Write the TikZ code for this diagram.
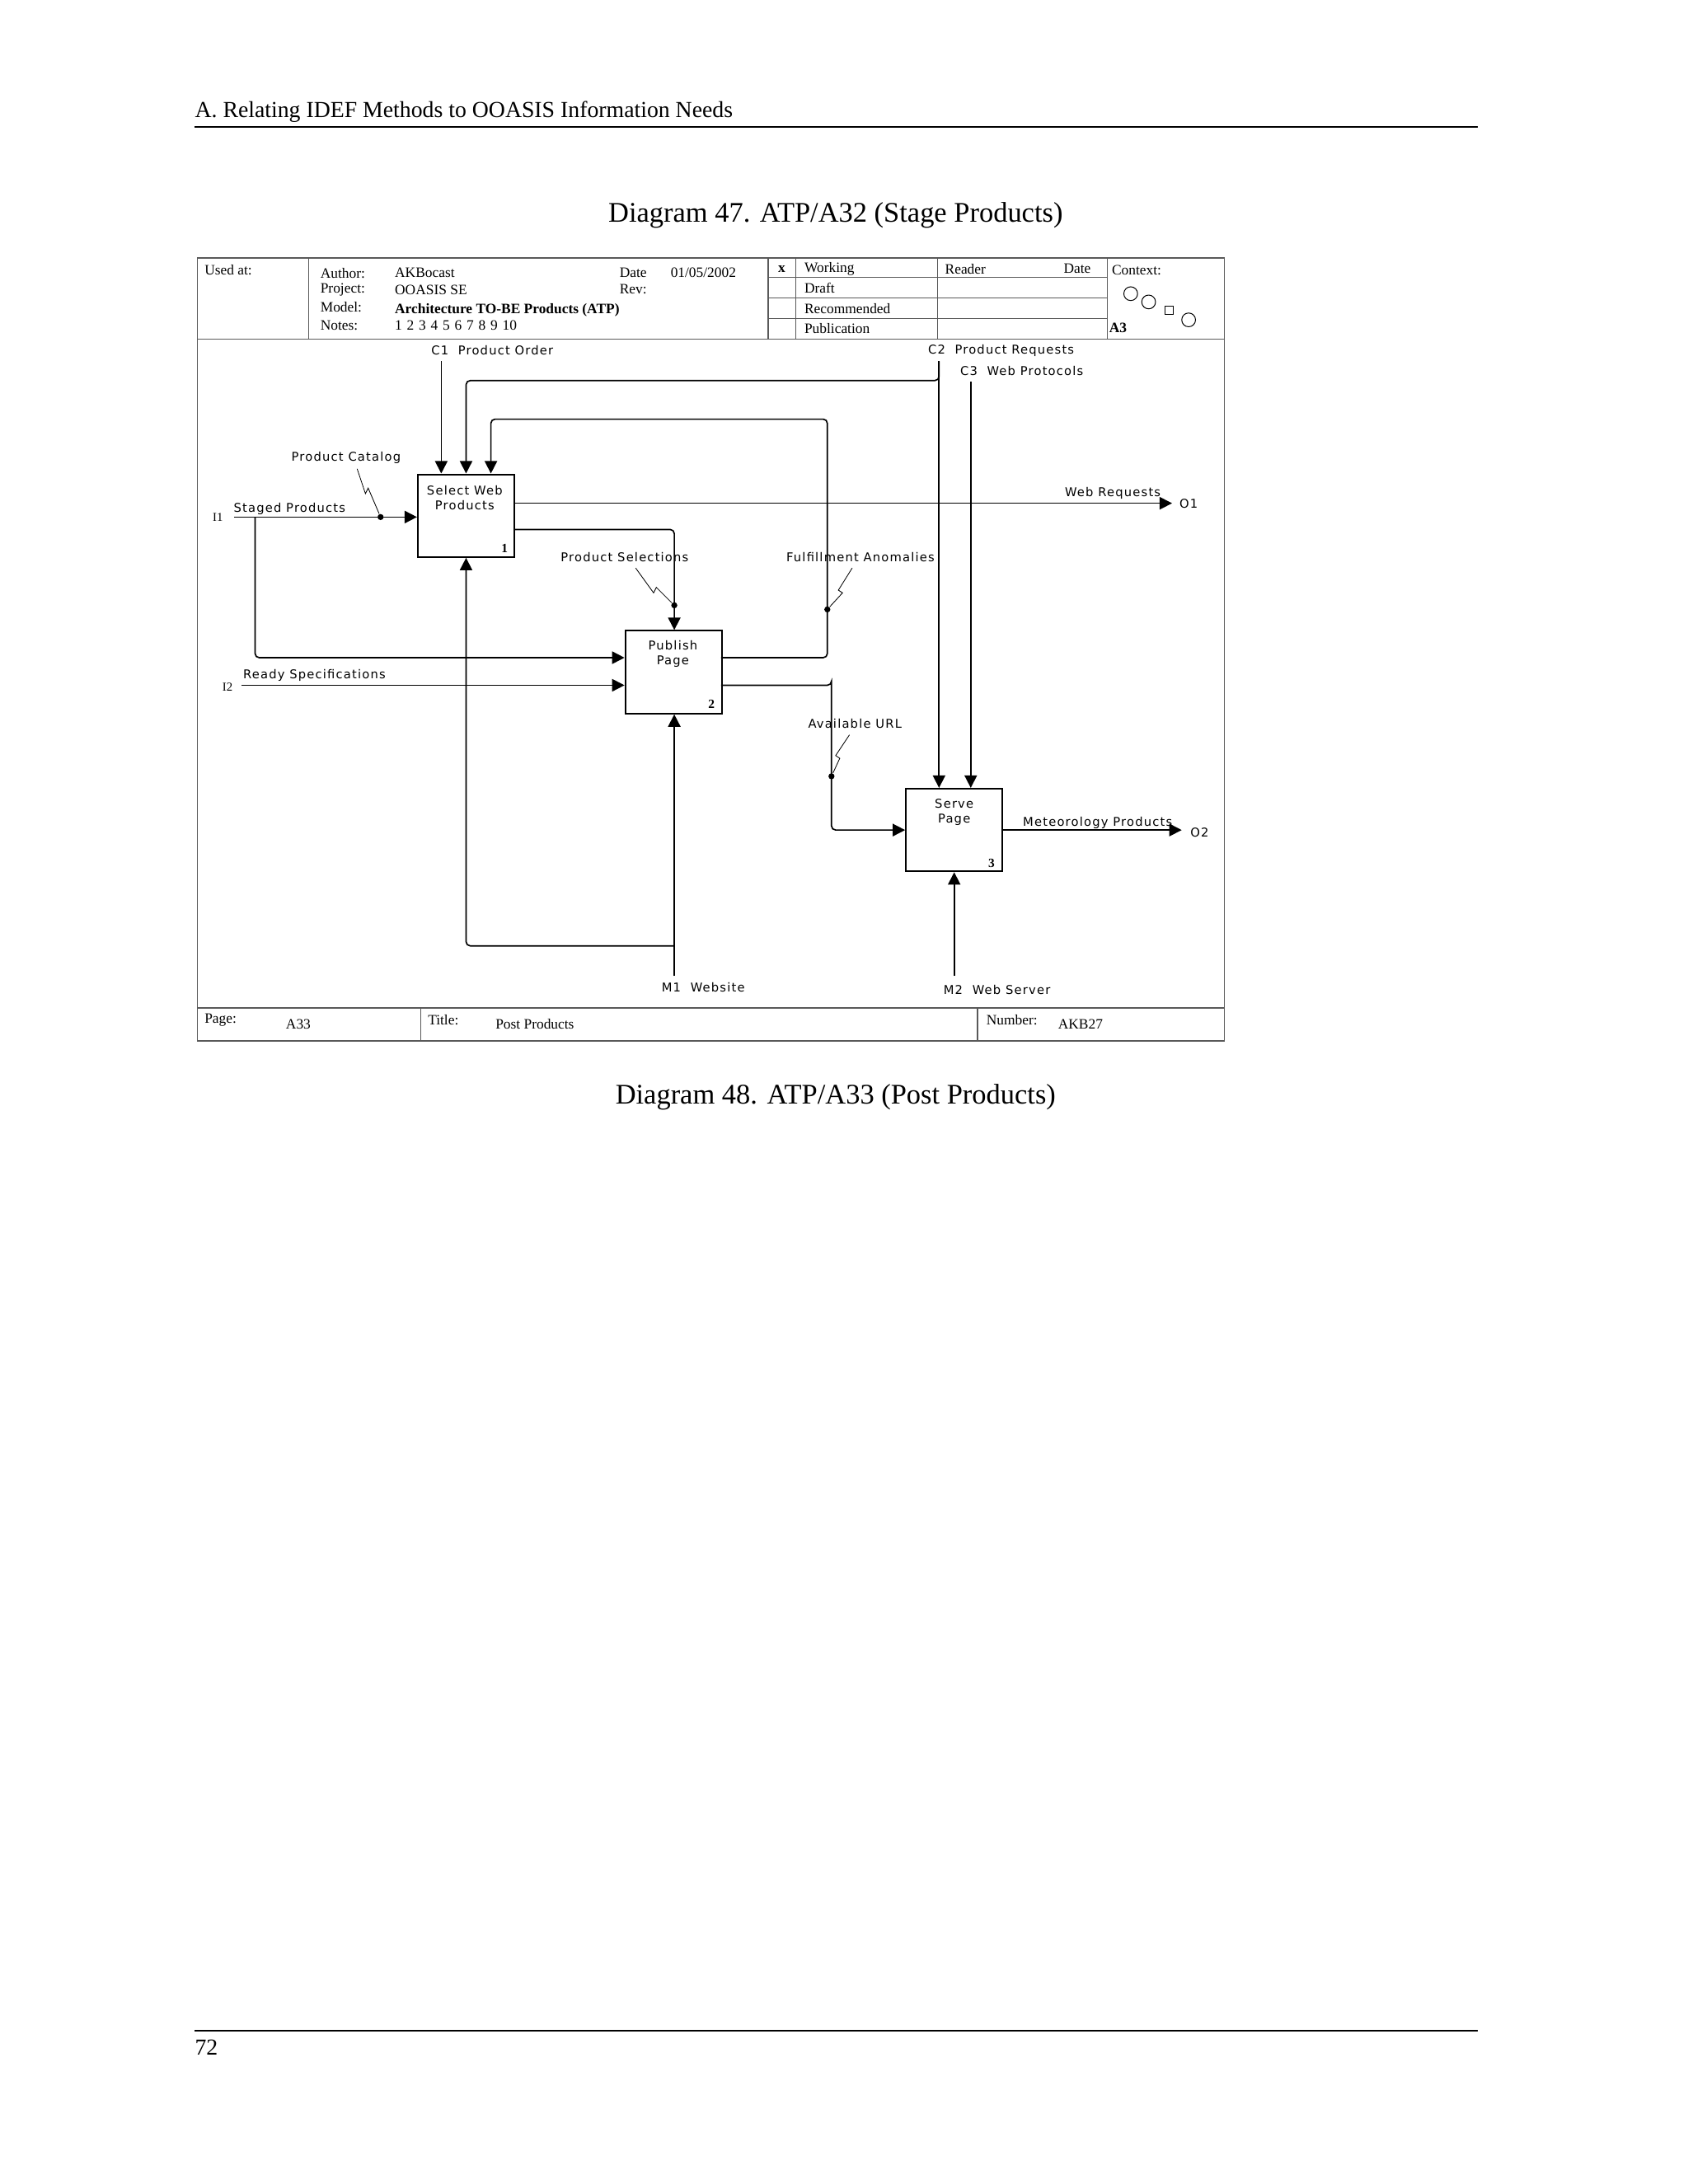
\documentclass[tikz,border=0pt]{standalone}
\usepackage{fontspec}
\setmainfont{Liberation Serif}
\newfontfamily\lab[LetterSpace=8]{DejaVu Sans}
\usetikzlibrary{arrows.meta,calc}
\begin{document}
\begin{tikzpicture}[x=0.5pt,y=-0.5pt,
  ln/.style={line width=0.5pt},
  arr/.style={ln,-{Triangle[length=4.5pt,width=4.5pt]},rounded corners=1.5pt},
  rc/.style={ln,rounded corners=1.5pt},
  box/.style={draw,line width=0.6pt,minimum width=35pt,minimum height=30pt,inner sep=0pt},
  lbl/.style={font=\lab\fontsize{4.4}{5.4}\selectfont,inner sep=0pt,align=center},
  fr/.style={font=\fontsize{5.2}{6}\selectfont,inner sep=0pt,anchor=west},
  sq/.style={line width=0.25pt},
  dot/.style={circle,fill,inner sep=0pt,minimum size=2.2pt}]
\useasboundingbox (0,0) rectangle (1224,1584);
% page
\node[font=\fontsize{8.3}{10}\selectfont,anchor=west,inner sep=0pt] (hdr) at (141,81) {A. Relating IDEF Methods to OOASIS Information Needs};
\draw[line width=0.6pt] (141,92) -- (1072,92);
\node[font=\fontsize{10.3}{12}\selectfont,inner sep=0pt] (cap1) at (606,156) {Diagram 47. ATP/A32 (Stage Products)};
\node[font=\fontsize{10.3}{12}\selectfont,inner sep=0pt] (cap2) at (606,796) {Diagram 48. ATP/A33 (Post Products)};
\draw[line width=0.6pt] (141,1473) -- (1072,1473);
\node[font=\fontsize{8.3}{10}\selectfont,anchor=west,inner sep=0pt] (pg) at (141,1485) {72};
% frame
\draw[line width=0.4pt,gray!70!black] (143,187) rectangle (888,755);
\draw[line width=0.4pt,gray!70!black] (143,246) -- (888,246) (143,731) -- (888,731);
\draw[line width=0.4pt,gray!70!black] (224,187) -- (224,246) (557,187) -- (557,246) (577,187) -- (577,246) (680,187) -- (680,246) (803,187) -- (803,246);
\draw[line width=0.4pt,gray!70!black] (557,201) -- (803,201) (557,216) -- (803,216) (557,231) -- (803,231);
\draw[line width=0.4pt,gray!70!black] (305,731) -- (305,755) (709,731) -- (709,755);
\node[fr] (ua) at (148,196) {Used at:};
\node[fr] (au) at (232,198) {Author:};
\node[fr] (pj) at (232,210) {Project:};
\node[fr] (md) at (232,223) {Model:};
\node[fr] (nt) at (232,236) {Notes:};
\node[fr] (auv) at (286,198) {AKBocast};
\node[fr] (pjv) at (286,210) {OOASIS SE};
\node[fr,font=\bfseries\fontsize{5.2}{6}\selectfont] (mdv) at (286,225) {Architecture TO-BE Products (ATP)};
\node[fr] (ntv) at (286,236) {1\,\,2\,\,3\,\,4\,\,5\,\,6\,\,7\,\,8\,\,9\,\,10};
\node[fr] (dt) at (449,198) {Date};
\node[fr] (dtv) at (486,198) {01/05/2002};
\node[fr] (rv) at (449,210) {Rev:};
\node[fr,font=\bfseries\fontsize{5.2}{6}\selectfont] (xx) at (564,195) {x};
\node[fr] (wk) at (583,195) {Working};
\node[fr] (df) at (583,209) {Draft};
\node[fr] (rc) at (583,224) {Recommended};
\node[fr] (pb) at (583,238) {Publication};
\node[fr] (rd) at (685,195) {Reader};
\node[fr] (rdd) at (771,195) {Date};
\node[fr] (cx) at (806,196) {Context:};
\node[fr,font=\bfseries\fontsize{5.2}{6}\selectfont] (a3) at (804,238) {A3};
\draw[line width=0.3pt] (820,213) circle (2.5pt) (833,219) circle (2.5pt) (862,232) circle (2.5pt);
\draw[line width=0.3pt] (845,222) rectangle (851,228);
\node[fr] (pgl) at (148,740) {Page:};
\node[fr] (pgv) at (207,743) {A33};
\node[fr] (tl) at (310,740) {Title:};
\node[fr] (tlv) at (359,743) {Post Products};
\node[fr] (nb) at (715,740) {Number:};
\node[fr] (nbv) at (767,743) {AKB27};
% boxes
\node[box] (b1) at (338,374) {};
\node[box] (b2) at (488.5,487.5) {};
\node[box] (b3) at (692,602) {};
\node[lbl] (t1) at (337,361) {Select Web\\Products};
\node[lbl] (t2) at (488,474) {Publish\\Page};
\node[lbl] (t3) at (692,589) {Serve\\Page};
\node[lbl,font=\bfseries\fontsize{4.6}{5}\selectfont] (n1) at (366,398) {1};
\node[lbl,font=\bfseries\fontsize{4.6}{5}\selectfont] (n2) at (516,511) {2};
\node[lbl,font=\bfseries\fontsize{4.6}{5}\selectfont] (n3) at (719,626) {3};
% labels
\node[lbl] (lc1) at (357,254) {C1\ \ Product Order};
\node[lbl] (lc2) at (726,254) {C2\ \ Product Requests};
\node[lbl] (lc3) at (741,269) {C3\ \ Web Protocols};
\node[lbl] (lpc) at (251,332) {Product Catalog};
\node[lbl] (li1) at (158,375) {\rmfamily I1};
\node[lbl] (lsp) at (210,369) {Staged Products};
\node[lbl] (lwr) at (807,358) {Web Requests};
\node[lbl] (lo1) at (862,365) {O1};
\node[lbl] (lps) at (453,404) {Product Selections};
\node[lbl] (lfa) at (624,404) {Fulfillment Anomalies};
\node[lbl] (li2) at (165,498) {\rmfamily I2};
\node[lbl] (lrs) at (228,490) {Ready Specifications};
\node[lbl] (lau) at (620,525) {Available URL};
\node[lbl] (lmp) at (796,597) {Meteorology Products};
\node[lbl] (lo2) at (870,604) {O2};
\node[lbl] (lm1) at (510,716) {M1\ \ Website};
\node[lbl] (lm2) at (723,718) {M2\ \ Web Server};
% coordinates
\coordinate (c1) at (320,262);
\coordinate (c2) at (681,262);
\coordinate (k1) at (338,276);
\coordinate (c3) at (704,277);
\coordinate (i1) at (170,375);
\coordinate (i1b) at (185,375);
\coordinate (i2) at (175,497);
\coordinate (o1) at (850,365);
\coordinate (o2) at (857,602);
\coordinate (m1) at (489,708);
\coordinate (m2) at (692,708);
\coordinate (p1r) at (373,365);
\coordinate (p1s) at (373,384);
\coordinate (p2a) at (523,477);
\coordinate (p2b) at (523,497);
\coordinate (fa1) at (600,304);
\coordinate (fa2) at (356,304);
\coordinate (ps) at (489,384);
\coordinate (au1) at (603,497);
\coordinate (m1b) at (489,686);
\coordinate (m1c) at (338,686);
% connectors
\draw[arr] (c1) -- (c1 |- b1.north);
\draw[arr] (c2) -- (c2 |- b3.north);
\draw[arr] (c2) |- (k1) -- (k1 |- b1.north);
\draw[arr] (c3) -- (c3 |- b3.north);
\draw[arr] (i1) -- (i1 -| b1.west);
\draw[arr] (i1b) -- (185,477) -- (b2.west |- 0,477);
\draw[arr] (i2) -- (i2 -| b2.west);
\draw[arr] (p1r) -- (o1);
\draw[arr] (p1s) -| (ps |- b2.north);
\draw[arr] (p2a) -| (fa1) -| (fa2 |- b1.north);
\draw[arr] (p2b) -| (au1) |- (b3.west);
\draw[arr] (b3.east) -- (o2);
\draw[arr] (m1) -- (m1 |- b2.south);
\draw[arr] (m1b) -- (m1c) -- (m1c |- b1.south);
\draw[arr] (m2) -- (m2 |- b3.south);
% squiggles and dots
\node[dot] (d1) at (276,375) {};
\node[dot] (d2) at (489,439) {};
\node[dot] (d3) at (600,442) {};
\node[dot] (d4) at (603,563) {};
\draw[sq] (259,340) -- (265,358) -- (267,354) -- (d1);
\draw[sq] (461,412) -- (474,430) -- (476,426) -- (d2);
\draw[sq] (618,412) -- (608,428) -- (611,430) -- (d3);
\draw[sq] (616,533) -- (606,548) -- (609,550) -- (d4);
\end{tikzpicture}
\end{document}
